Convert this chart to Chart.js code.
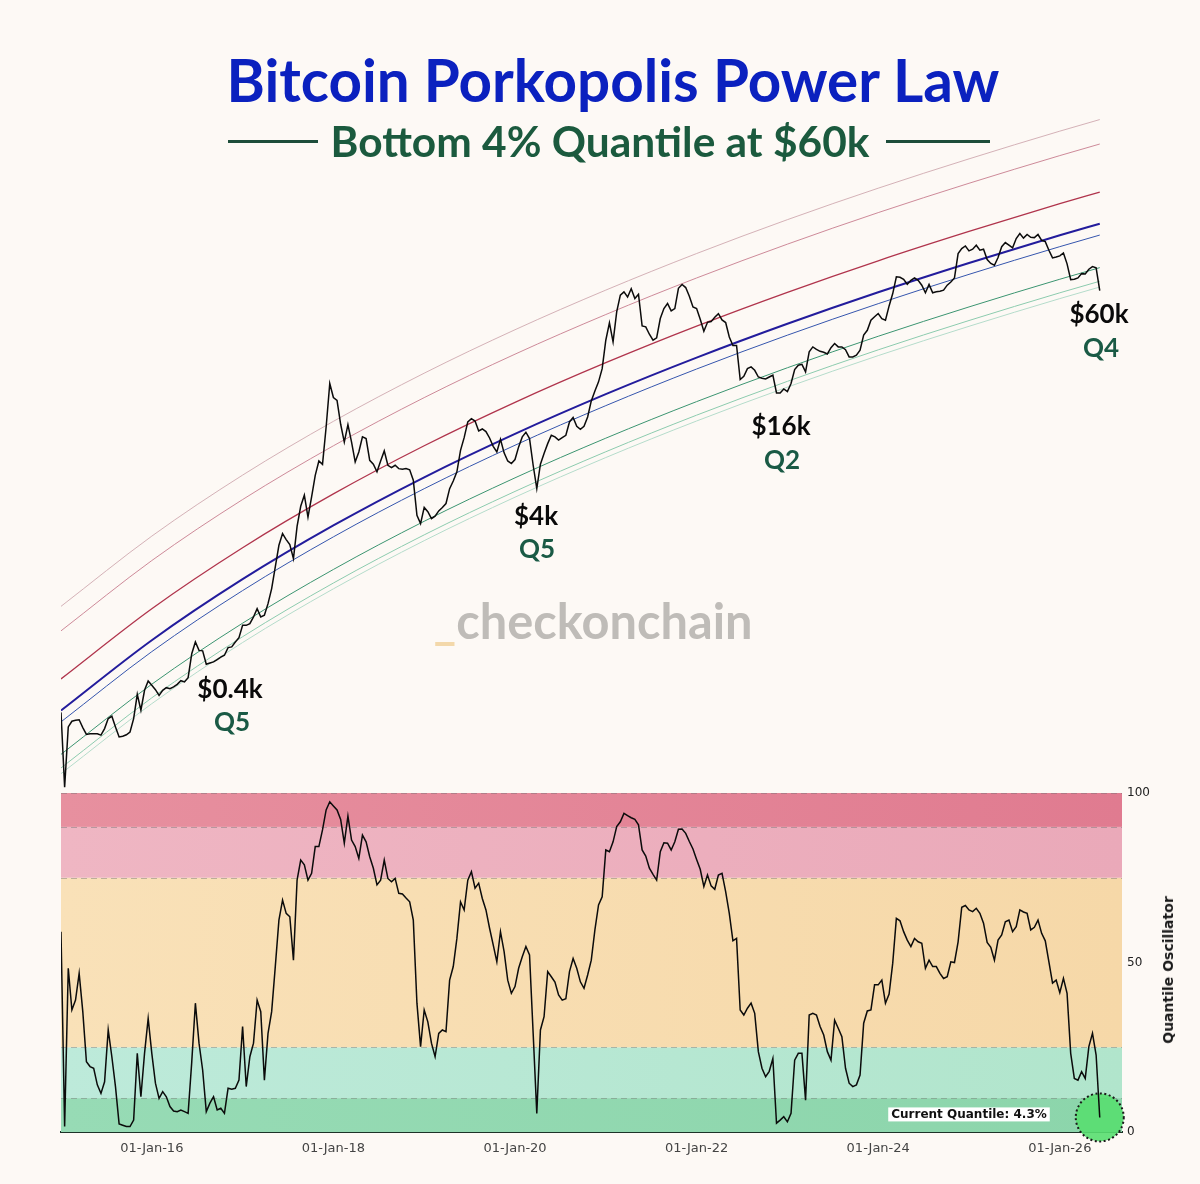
<!DOCTYPE html>
<html><head><meta charset="utf-8">
<script src="https://cdn.jsdelivr.net/npm/chart.js@4.4.1/dist/chart.umd.min.js"></script>
<style>
html,body{margin:0;padding:0;background:#fdf9f5;}
#wrap{position:relative;width:1200px;height:1184px;overflow:hidden;background:#fdf9f5;font-family:Lato,'Noto Sans',sans-serif;}
.c{position:absolute;transform:translate(-50%,-50%);white-space:nowrap;line-height:1;}
#title{left:613px;top:79px;color:#0b21bf;font-weight:700;font-size:52px;}
#sub{left:600px;top:141px;color:#1b5a3e;font-weight:700;font-size:36px;}
.rule{position:absolute;height:3px;background:#1d4d3a;top:140px;}
.ann{font-weight:700;font-size:26px;color:#0a0a0a;}
.q{font-weight:700;font-size:26px;color:#1a5a45;}
#wm{left:593px;top:620px;font-weight:700;font-size:46px;color:#bfbcb8;}
#ytitle{left:1168px;top:970px;transform:translate(-50%,-50%) rotate(-90deg);font-family:'DejaVu Sans';font-weight:700;font-size:14px;color:#1a1a1a;}
canvas{position:absolute;}
</style></head>
<body>
<div id="wrap">
  <canvas id="top" width="1061" height="693" style="left:61px;top:100px;"></canvas>
  <canvas id="bot" width="1200" height="404" style="left:0;top:780px;"></canvas>
  <div id="title" class="c">Bitcoin Porkopolis Power Law</div>
  <div class="rule" style="left:228px;width:90px;"></div>
  <div id="sub" class="c">Bottom 4% Quantile at $60k</div>
  <div class="rule" style="left:886px;width:104px;"></div>
  <div id="wm" class="c"><span style="color:#f3d8aa">_</span>checkonchain</div>
  <div class="c ann" style="left:230px;top:688px;">$0.4k</div>
  <div class="c q" style="left:232px;top:721px;">Q5</div>
  <div class="c ann" style="left:536px;top:515px;">$4k</div>
  <div class="c q" style="left:537px;top:548px;">Q5</div>
  <div class="c ann" style="left:781px;top:425px;">$16k</div>
  <div class="c q" style="left:782px;top:459px;">Q2</div>
  <div class="c ann" style="left:1099px;top:313px;">$60k</div>
  <div class="c q" style="left:1101px;top:347px;">Q4</div>
  <div id="ytitle" class="c">Quantile Oscillator</div>
</div>
<script>
// ---- DATA ----
const dates = [
2015,2015.04,2015.08,2015.12,2015.16,2015.2,2015.24,2015.28,2015.32,2015.36,2015.4,2015.44,2015.48,2015.52,2015.56,2015.6,2015.64,2015.68,2015.72,2015.76,2015.8,2015.84,2015.88,2015.92,2015.96,
2016,2016.04,2016.08,2016.12,2016.16,2016.2,2016.24,2016.28,2016.32,2016.36,2016.4,2016.44,2016.48,2016.52,2016.56,2016.6,2016.64,2016.68,2016.72,2016.76,2016.8,2016.84,2016.88,2016.92,2016.96,
2017,2017.04,2017.08,2017.12,2017.16,2017.2,2017.24,2017.28,2017.32,2017.36,2017.4,2017.44,2017.48,2017.52,2017.56,2017.6,2017.64,2017.68,2017.72,2017.76,2017.8,2017.84,2017.88,2017.92,2017.96,
2018,2018.04,2018.08,2018.12,2018.16,2018.2,2018.24,2018.28,2018.32,2018.36,2018.4,2018.44,2018.48,2018.52,2018.56,2018.6,2018.64,2018.68,2018.72,2018.76,2018.8,2018.84,2018.88,2018.92,2018.96,
2019,2019.04,2019.08,2019.12,2019.16,2019.2,2019.24,2019.28,2019.32,2019.36,2019.4,2019.44,2019.48,2019.52,2019.56,2019.6,2019.64,2019.68,2019.72,2019.76,2019.8,2019.84,2019.88,2019.92,2019.96,
2020,2020.04,2020.08,2020.12,2020.16,2020.2,2020.24,2020.28,2020.32,2020.36,2020.4,2020.44,2020.48,2020.52,2020.56,2020.6,2020.64,2020.68,2020.72,2020.76,2020.8,2020.84,2020.88,2020.92,2020.96,
2021,2021.04,2021.08,2021.12,2021.16,2021.2,2021.24,2021.28,2021.32,2021.36,2021.4,2021.44,2021.48,2021.52,2021.56,2021.6,2021.64,2021.68,2021.72,2021.76,2021.8,2021.84,2021.88,2021.92,2021.96,
2022,2022.04,2022.08,2022.12,2022.16,2022.2,2022.24,2022.28,2022.32,2022.36,2022.4,2022.44,2022.48,2022.52,2022.56,2022.6,2022.64,2022.68,2022.72,2022.76,2022.8,2022.84,2022.88,2022.92,2022.96,
2023,2023.04,2023.08,2023.12,2023.16,2023.2,2023.24,2023.28,2023.32,2023.36,2023.4,2023.44,2023.48,2023.52,2023.56,2023.6,2023.64,2023.68,2023.72,2023.76,2023.8,2023.84,2023.88,2023.92,2023.96,
2024,2024.04,2024.08,2024.12,2024.16,2024.2,2024.24,2024.28,2024.32,2024.36,2024.4,2024.44,2024.48,2024.52,2024.56,2024.6,2024.64,2024.68,2024.72,2024.76,2024.8,2024.84,2024.88,2024.92,2024.96,
2025,2025.04,2025.08,2025.12,2025.16,2025.2,2025.24,2025.28,2025.32,2025.36,2025.4,2025.44,2025.48,2025.52,2025.56,2025.6,2025.64,2025.68,2025.72,2025.76,2025.8,2025.84,2025.88,2025.92,2025.96,
2026,2026.04,2026.08,2026.12,2026.16,2026.2,2026.24,2026.28,2026.32,2026.36,2026.4,2026.44];

const price = [
290,112,241,259,262,264,239,219,221,221,221,217,236,268,276,241,212,214,218,226,268,365,298,384,432,
409,387,360,384,397,392,401,414,434,427,451,612,710,638,634,535,543,551,568,586,600,661,667,710,750,
877,877,897,976,1084,976,997,1156,1400,1845,2429,2818,2612,2450,2050,3090,3990,4590,3480,4490,5910,7100,6800,10940,19000,
15900,15350,11320,9030,11270,9030,7010,7960,9640,9440,7160,6810,6180,7100,8070,6720,6520,6720,6440,6380,6440,6340,5560,3560,3200,
3930,3720,3410,3520,3760,3930,4130,4990,5500,6180,8130,9550,11660,12160,11800,10400,10660,10310,9510,8550,7960,9350,7870,7100,6870,
7230,8490,9640,10230,9440,6720,5000,6810,7800,8850,9840,9640,9250,9550,9840,11660,12330,11040,10620,11040,12420,15240,17300,19410,22970,
32960,41100,32280,47300,58480,61000,57150,63530,55980,59160,39550,39080,35590,32960,33960,43450,49320,52600,47860,49320,63830,66990,64420,57680,50350,
49320,43050,36980,41400,41780,44160,46240,42660,41300,34360,30830,30830,20000,20850,22970,23500,22490,20650,20320,20140,20650,21130,16870,16870,17750,
17140,19010,22700,23990,24270,22030,28440,30280,29380,28640,28310,27680,29990,31620,30280,30280,29240,26670,26670,27230,29040,35160,37410,42500,44400,
46300,43400,42500,51000,59700,73800,73400,71600,67200,70700,72800,70700,66400,60300,67000,60300,61000,61500,62300,66400,69200,72800,99300,105800,109300,
102700,104900,110400,103600,104900,92000,87500,85600,94400,108400,114200,110400,106700,120200,128000,120800,126500,122200,121600,126500,117500,115600,103600,94000,95100,
96400,100100,87100,71300,71600,72800,76900,76600,81300,84100,82800,62000];

const oscillator = [
59.1,1.6,48.3,36.0,38.9,46.8,35.5,20.7,19.3,18.8,13.9,11.4,14.8,30.1,22.2,13.4,2.4,2.0,1.6,1.6,3.5,23.2,10.4,23.2,33.5,
23.2,14.4,9.9,11.9,10.4,7.5,6.2,6.0,6.5,6.0,5.5,20.7,38.0,26.2,18.3,6.0,8.5,10.4,6.5,7.0,5.5,12.9,12.6,12.9,15.3,
31.1,13.4,22.2,26.2,38.9,35.5,15.3,29.1,35.5,48.8,62.5,68.4,64.5,63.5,50.7,74.3,80.2,78.8,74.3,76.3,84.2,84.2,89.1,95.0,97.4,
96.2,95.0,92.2,85.2,93.2,86.1,84.2,80.7,87.6,85.6,81.2,77.8,72.9,74.3,80.2,74.8,73.8,74.8,70.4,70.2,69.0,67.9,62.5,38.0,25.2,
36.0,32.5,26.2,22.2,29.1,30.1,29.6,44.8,48.8,57.1,67.9,65.5,74.3,76.8,71.9,73.4,68.9,65.5,60.1,55.2,50.2,59.1,53.2,44.8,40.9,
42.9,48.3,51.7,54.7,52.2,29.1,5.5,30.1,34.0,47.3,45.8,44.2,40.4,38.9,39.3,47.3,51.2,48.3,44.3,42.4,46.3,50.7,59.6,67.0,69.4,
83.2,82.7,85.6,90.1,91.5,94.0,93.3,92.7,92.2,90.6,83.2,81.4,77.8,76.0,74.3,82.7,85.3,85.2,83.2,85.6,89.3,89.4,88.1,85.7,83.5,
80.4,77.5,72.4,75.8,72.6,71.6,75.8,76.3,70.9,64.5,56.4,57.1,36.0,34.5,36.5,38.0,35.0,23.7,18.8,16.3,17.9,21.7,2.6,3.5,4.5,
3.0,5.5,21.2,23.2,23.2,9.4,34.5,35.0,34.5,31.1,28.6,23.7,21.2,33.0,30.6,28.1,18.8,14.4,13.4,13.9,16.8,32.1,35.7,36.0,43.4,
43.4,44.8,38.0,40.7,49.8,63.0,62.3,59.1,56.6,54.7,57.1,56.1,55.7,48.3,50.7,48.8,48.8,46.8,45.3,45.8,50.2,50.0,56.1,66.3,66.8,
65.5,65.0,66.0,64.5,61.6,55.9,54.5,50.7,56.6,58.1,62.0,62.5,59.1,60.6,65.5,64.9,64.5,59.6,60.4,62.5,58.6,56.4,50.2,43.9,44.8,
41.1,45.3,40.9,23.2,15.8,15.3,17.8,15.8,25.2,29.1,22.7,4.3];

// Power-law quantile bands, read at yearly dates
const qDates = [2015,2016,2017,2018,2019,2020,2021,2022,2023,2024,2025,2026,2026.44];
const qTop   = [1117,2729,5929,11750,21680,37670,62370,99310,152800,228000,331100,471000,545800];
const qHigh  = [818,2000,4345,8610,15890,27610,45710,72780,111900,167100,242700,345100,399900];
const qUpper = [444,1084,2355,4667,8610,14960,24770,39450,60670,90570,131500,187100,216800];
const qMid   = [297,726,1578,3126,5768,10020,16600,26420,40640,60670,88100,125300,145200];
const qBelow = [257,628,1365,2704,4989,8670,14350,22860,35160,52480,76210,108400,125600];
const qLow   = [170,415,902,1786,3296,5728,9484,15100,23230,34670,50350,71610,82990];
const qLower = [143,349,759,1503,2773,4819,7980,12710,19540,29170,42360,60260,69820];
const qFloor = [133,324,705,1396,2576,4477,7413,11800,18160,27100,39360,55980,64860];

const tickYears = [2016,2018,2020,2022,2024,2026];
const oscTicks = [0,50,100];
const bandEdges = [0,10,25,75,90,100];

// ---- STYLES ----
const quantStyles = [
  {name:'Top', data:qTop, color:'rgba(205,165,172,0.85)', width:1},
  {name:'High', data:qHigh, color:'rgba(200,125,142,0.9)', width:1},
  {name:'Upper', data:qUpper, color:'#b0344c', width:1.3},
  {name:'Mid', data:qMid, color:'#231c9c', width:2},
  {name:'Below', data:qBelow, color:'#3555ad', width:1},
  {name:'Low', data:qLow, color:'#3b9470', width:1},
  {name:'Lower', data:qLower, color:'#8ccbae', width:1},
  {name:'Floor', data:qFloor, color:'#b5dccb', width:1}
];
const bandColors = [
  ['#97dbb5','#8cd5ab'],
  ['#bdeada','#b1e5cc'],
  ['#f9e1b8','#f6d8a8'],
  ['#efb6c3','#eaa9b9'],
  ['#e7909f','#e07b90']
];
const xMin = 2015, xMax = 2026.685;
const pts = (xs, ys) => xs.map((x, i) => ({x: x, y: ys[i]}));

// ---- fit titles ----
function fitWidth(id, w){
  const el = document.getElementById(id);
  const cur = el.getBoundingClientRect().width;
  const fs = parseFloat(getComputedStyle(el).fontSize);
  el.style.fontSize = (fs * w / cur).toFixed(2) + 'px';
}
fitWidth('title', 773);
fitWidth('sub', 539);
fitWidth('wm', 319);

// ---- TOP CHART ----
new Chart(document.getElementById('top'), {
  type: 'line',
  data: {
    datasets: [
      {label:'Price', data: pts(dates, price), borderColor:'#0b0b0b', borderWidth:1.5, pointRadius:0, tension:0}
    ].concat(quantStyles.map(q => ({
      label:q.name, data: pts(qDates, q.data), borderColor:q.color, borderWidth:q.width,
      pointRadius:0, cubicInterpolationMode:'monotone'
    })))
  },
  options: {
    responsive:false, animation:false, events:[],
    layout:{padding:0},
    plugins:{legend:{display:false}, tooltip:{enabled:false}},
    scales:{
      x:{type:'linear', min:xMin, max:xMax, display:false},
      y:{type:'logarithmic', min:104, max:700000, display:false}
    }
  }
});

// ---- BOTTOM CHART ----
const bandsPlugin = {
  id:'bands',
  beforeDatasetsDraw(chart){
    const {ctx, chartArea:a, scales:{y}} = chart;
    ctx.save();
    for (let k = 0; k < bandEdges.length - 1; k++){
      const y0 = y.getPixelForValue(bandEdges[k]), y1 = y.getPixelForValue(bandEdges[k+1]);
      const g = ctx.createLinearGradient(a.left, 0, a.right, 0);
      g.addColorStop(0, bandColors[k][0]); g.addColorStop(1, bandColors[k][1]);
      ctx.fillStyle = g;
      ctx.fillRect(a.left, y1, a.right - a.left, y0 - y1);
    }
    ctx.setLineDash([6,4]); ctx.strokeStyle = 'rgba(115,115,115,0.45)'; ctx.lineWidth = 1;
    bandEdges.slice(1).forEach(v => {
      const py = Math.round(y.getPixelForValue(v)) + 0.5;
      ctx.beginPath(); ctx.moveTo(a.left, py); ctx.lineTo(a.right, py); ctx.stroke();
    });
    // end marker circle
    const meta = chart.getDatasetMeta(0);
    const p = meta.data[meta.data.length - 1];
    ctx.setLineDash([2,2.5]);
    ctx.beginPath(); ctx.arc(p.x, p.y, 24, 0, Math.PI*2);
    ctx.fillStyle = 'rgba(88,222,112,0.9)'; ctx.fill();
    ctx.strokeStyle = '#1a1a1a'; ctx.lineWidth = 2; ctx.stroke();
    ctx.restore();
  },
  afterDatasetsDraw(chart){
    const {ctx} = chart;
    const meta = chart.getDatasetMeta(0);
    const p = meta.data[meta.data.length - 1];
    const txt = 'Current Quantile: ' + oscillator[oscillator.length-1].toFixed(1) + '%';
    ctx.save();
    ctx.font = 'bold 12px "DejaVu Sans"';
    const w = ctx.measureText(txt).width;
    const right = p.x - 53, cy = p.y - 3;
    ctx.fillStyle = '#ffffff';
    ctx.fillRect(right - w - 3, cy - 7, w + 6, 14);
    ctx.fillStyle = '#111'; ctx.textBaseline = 'middle'; ctx.textAlign = 'right';
    ctx.fillText(txt, right, cy + 0.5);
    ctx.restore();
  }
};

new Chart(document.getElementById('bot'), {
  type:'line',
  data:{ datasets:[{label:'Quantile Oscillator', data: pts(dates, oscillator), borderColor:'#0b0b0b', borderWidth:1.5, pointRadius:0, tension:0}] },
  options:{
    responsive:false, animation:false, events:[],
    layout:{padding:{left:61, top:13, right:0, bottom:0}},
    plugins:{legend:{display:false}, tooltip:{enabled:false}},
    scales:{
      x:{
        type:'linear', min:xMin, max:xMax, position:'bottom',
        afterFit: s => { s.height = 52; },
        afterBuildTicks: s => { s.ticks = tickYears.map(v => ({value:v})); },
        grid:{display:false, drawTicks:false},
        border:{display:true, color:'#1d3328', width:2},
        ticks:{padding:9, color:'#444', font:{family:'DejaVu Sans', size:13}, maxRotation:0, autoSkip:false,
          callback: v => '01-Jan-' + String(v).slice(2)}
      },
      y:{
        type:'linear', min:0, max:100, position:'right',
        afterFit: s => { s.width = 78; },
        afterBuildTicks: s => { s.ticks = oscTicks.map(v => ({value:v})); },
        grid:{display:false, drawTicks:false},
        border:{display:false},
        ticks:{padding:5, color:'#222', font:{family:'DejaVu Sans', size:12}}
      }
    }
  },
  plugins:[bandsPlugin]
});
</script>
</body></html>
